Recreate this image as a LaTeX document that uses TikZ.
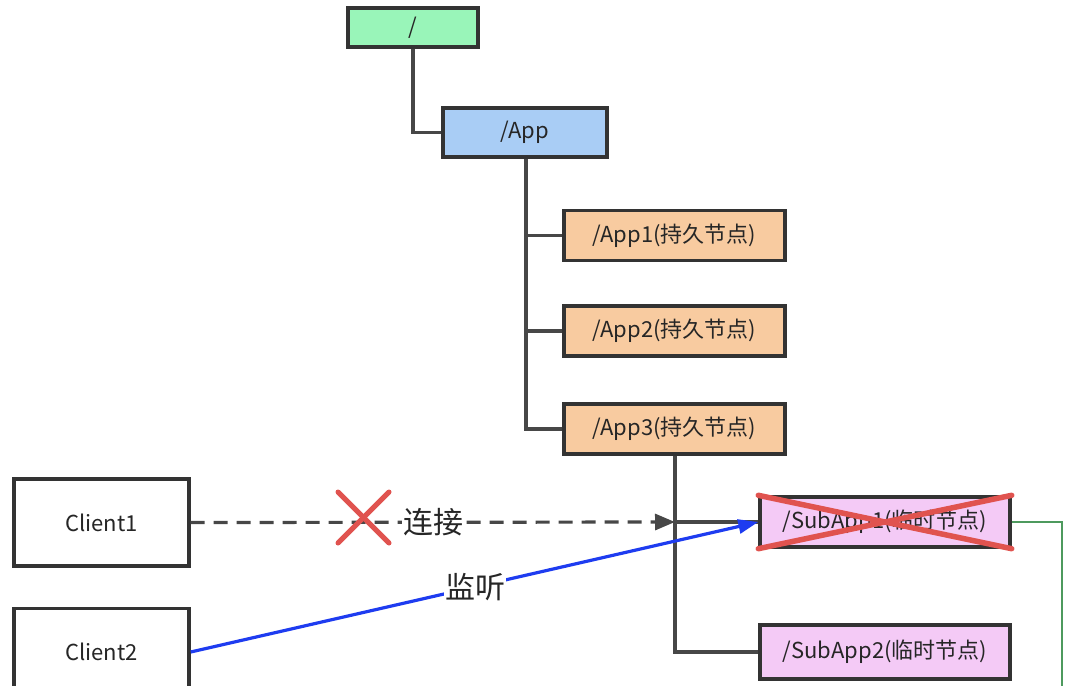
\documentclass[tikz,border=0pt]{standalone}
\usepackage{fontspec}
\setmainfont{Noto Sans CJK SC}
\usetikzlibrary{arrows.meta}
\definecolor{rootg}{HTML}{99F5B9}
\definecolor{appb}{HTML}{A9CDF5}
\definecolor{appo}{HTML}{F8CBA0}
\definecolor{subp}{HTML}{F4CAF6}
\definecolor{edge}{HTML}{333333}
\definecolor{xred}{HTML}{E0534F}
\definecolor{lblue}{HTML}{1E3CF0}
\definecolor{lgreen}{HTML}{4E9A5E}
\tikzset{
  box/.style={draw=edge, line width=3.4pt, minimum height=#1, inner sep=0pt, font=\fontsize{22}{25}\selectfont, text=black!85},
  box/.default=50pt,
  conn/.style={draw=edge!90, line width=3.4pt},
  cross/.style={draw=xred, line width=5pt, line cap=round},
}
\begin{document}
\begin{tikzpicture}[x=1pt,y=-1pt]
\useasboundingbox (0,0) rectangle (1080,686);
% nodes
\node[box=39pt, fill=rootg, minimum width=130pt] (root) at (413,27.5) {/};
\node[box=49pt, fill=appb, minimum width=164pt] (app) at (525,132.5) {/App};
\node[box, fill=appo, minimum width=221pt] (app1) at (674.5,235.5) {/App1(持久节点)};
\node[box, fill=appo, minimum width=221pt] (app2) at (674.5,331) {/App2(持久节点)};
\node[box, fill=appo, minimum width=221pt] (app3) at (674.5,429) {/App3(持久节点)};
\node[box=87pt, fill=white, minimum width=175pt] (c1) at (101.5,522.5) {Client1};
\node[box=87pt, fill=white, minimum width=175pt] (c2) at (101.5,652) {Client2};
\node[box, fill=subp, minimum width=250pt] (s1) at (885,522) {/SubApp1(临时节点)};
\node[box=54pt, fill=subp, minimum width=250pt] (s2) at (885,652) {/SubApp2(临时节点)};
% tree connectors
\draw[conn] (root.south) |- (app.west);
\coordinate (tr) at (526,0);
\draw[conn] (tr |- app.south) |- (app3.west);
\draw[conn] (tr |- app1.west) -- (app1.west);
\draw[conn] (tr |- app2.west) -- (app2.west);
\coordinate (st) at (675,0);
\coordinate (j) at (675,522);
\draw[conn] (st |- app3.south) |- (s2.west);
\draw[conn] (j) -- (s1.west);
% dashed connection
\draw[draw=edge!90, line width=3.2pt, dash pattern=on 14pt off 9pt, -{Triangle[length=20pt,width=16pt]}] (c1.east) -- (j);
\node[fill=white, inner sep=1pt, font=\fontsize{30}{33}\selectfont, text=black!85] (lj) at (433,522) {连接};
\draw[cross] (338,492) -- (389,543);
\draw[cross] (338,543) -- (389,492);
% listen
\draw[draw=lblue, line width=3.2pt, -{Triangle[length=20pt,width=14pt]}] (c2.east) -- (s1.west);
\node[fill=white, inner sep=1pt, font=\fontsize{30}{33}\selectfont, text=black!85] (lt) at (475,587) {监听};
% cross over SubApp1
\draw[cross, line width=5.5pt] (s1.north west) -- (s1.south east);
\draw[cross, line width=5.5pt] (s1.south west) -- (s1.north east);
% green line
\coordinate (g) at (1062,700);
\draw[draw=lgreen, line width=2.6pt] (s1.east) -| (g);
\end{tikzpicture}
\end{document}
